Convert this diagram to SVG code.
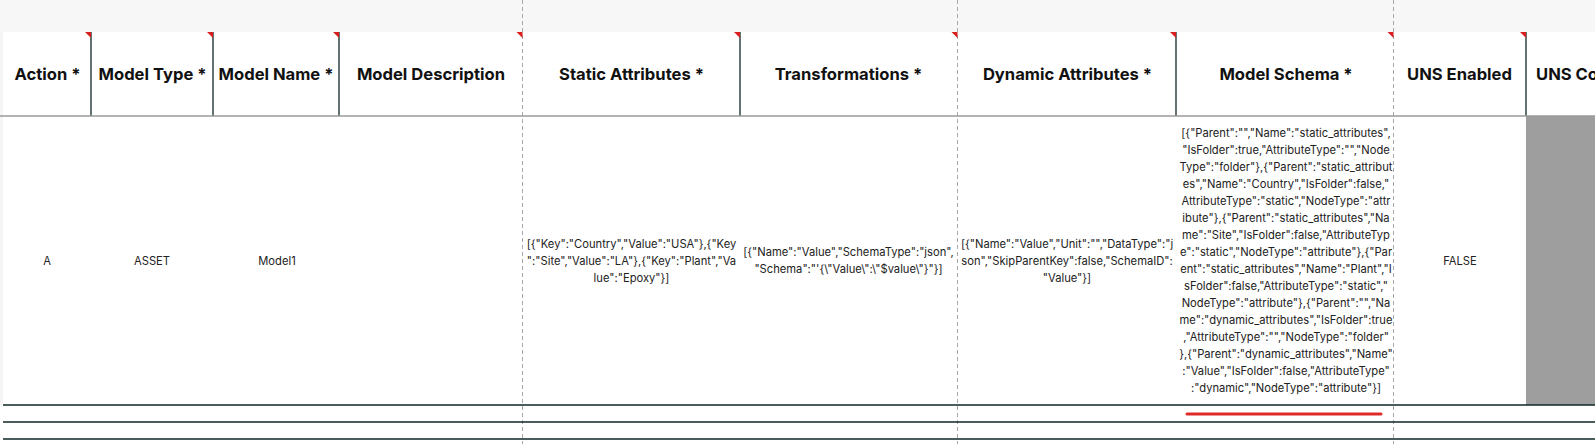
<svg xmlns="http://www.w3.org/2000/svg" width="1595" height="444" viewBox="0 0 1595 444">
<style>
.h{font-family:Inter,"Liberation Sans",sans-serif;font-weight:700;font-size:16.6px;fill:#111;text-anchor:middle}
.b{font-family:Inter,"Liberation Sans",sans-serif;font-size:11.2px;fill:#222;text-anchor:middle}
.sep{stroke:#0e2626;stroke-width:1.3}
.dash{stroke:#a8a8a8;stroke-width:1;stroke-dasharray:4 3}
.row{stroke:#0e2626;stroke-width:1.3}
.tri{fill:#d81e1e}
</style>
<rect x="0" y="0" width="1595" height="444" fill="#ffffff"/>
<rect x="0" y="0" width="1595" height="32" fill="#f7f7f7"/>
<rect x="0" y="32" width="3" height="373" fill="#f5f5f5"/>
<rect x="1526" y="116" width="69" height="289" fill="#9e9e9e"/>
<g id="connectors">
<line class="dash" x1="522.5" y1="0" x2="522.5" y2="444"/>
<line class="dash" x1="957.5" y1="0" x2="957.5" y2="444"/>
<line class="dash" x1="1393.5" y1="0" x2="1393.5" y2="444"/>
<line class="sep" x1="91" y1="32" x2="91" y2="116"/>
<line class="sep" x1="213" y1="32" x2="213" y2="116"/>
<line class="sep" x1="339" y1="32" x2="339" y2="116"/>
<line class="sep" x1="740" y1="32" x2="740" y2="116"/>
<line class="sep" x1="1176" y1="32" x2="1176" y2="116"/>
<line class="sep" x1="1526" y1="32" x2="1526" y2="116"/>
<line x1="0" y1="116" x2="1595" y2="116" stroke="#9a9a9a" stroke-width="1.3"/>
<line class="row" x1="3" y1="405" x2="1595" y2="405"/>
<line class="row" x1="3" y1="422" x2="1595" y2="422"/>
<line class="row" x1="3" y1="439" x2="1595" y2="439"/>
<line x1="1187" y1="414" x2="1381" y2="414" stroke="#e02a2a" stroke-width="3" stroke-linecap="round"/>
</g>
<g id="markers">
<polygon class="tri" points="85,32 91,32 91,38"/>
<polygon class="tri" points="207,32 213,32 213,38"/>
<polygon class="tri" points="333,32 339,32 339,38"/>
<polygon class="tri" points="516.5,32 522.5,32 522.5,38"/>
<polygon class="tri" points="734,32 740,32 740,38"/>
<polygon class="tri" points="951.5,32 957.5,32 957.5,38"/>
<polygon class="tri" points="1170,32 1176,32 1176,38"/>
<polygon class="tri" points="1387.5,32 1393.5,32 1393.5,38"/>
<polygon class="tri" points="1520,32 1526,32 1526,38"/>
</g>
<g id="col-action">
<text class="h" x="47.5" y="80">Action *</text>
<text class="b" x="47" y="265">A</text>
</g>
<g id="col-model-type">
<text class="h" x="152.5" y="80">Model Type *</text>
<text class="b" x="152" y="265">ASSET</text>
</g>
<g id="col-model-name">
<text class="h" x="276" y="80">Model Name *</text>
<text class="b" x="277" y="265">Model1</text>
</g>
<g id="col-model-description">
<text class="h" x="431" y="80">Model Description</text>
</g>
<g id="col-static-attributes">
<text class="h" x="631.5" y="80">Static Attributes *</text>
<text class="b" x="631.5" y="247.5">[{"Key":"Country","Value":"USA"},{"Key</text>
<text class="b" x="631.5" y="264.5">":"Site","Value":"LA"},{"Key":"Plant","Va</text>
<text class="b" x="631.5" y="281.5">lue":"Epoxy"}]</text>
</g>
<g id="col-transformations">
<text class="h" x="848.5" y="80">Transformations *</text>
<text class="b" x="848.5" y="256">[{"Name":"Value","SchemaType":"json",</text>
<text class="b" x="848.5" y="273">"Schema":"'{\"Value\":\"$value\"}"}]</text>
</g>
<g id="col-dynamic-attributes">
<text class="h" x="1067.5" y="80">Dynamic Attributes *</text>
<text class="b" x="1067" y="247.5">[{"Name":"Value","Unit":"","DataType":"j</text>
<text class="b" x="1067" y="264.5">son","SkipParentKey":false,"SchemaID":</text>
<text class="b" x="1067" y="281.5">"Value"}]</text>
</g>
<g id="col-model-schema">
<text class="h" x="1286" y="80">Model Schema *</text>
<text class="b" x="1286" y="137.3">[{"Parent":"","Name":"static_attributes",</text>
<text class="b" x="1286" y="154.3">"IsFolder":true,"AttributeType":"","Node</text>
<text class="b" x="1286" y="171.3">Type":"folder"},{"Parent":"static_attribut</text>
<text class="b" x="1286" y="188.3">es","Name":"Country","IsFolder":false,"</text>
<text class="b" x="1286" y="205.3">AttributeType":"static","NodeType":"attr</text>
<text class="b" x="1286" y="222.3">ibute"},{"Parent":"static_attributes","Na</text>
<text class="b" x="1286" y="239.3">me":"Site","IsFolder":false,"AttributeTyp</text>
<text class="b" x="1286" y="256.3">e":"static","NodeType":"attribute"},{"Par</text>
<text class="b" x="1286" y="273.3">ent":"static_attributes","Name":"Plant","I</text>
<text class="b" x="1286" y="290.3">sFolder":false,"AttributeType":"static","</text>
<text class="b" x="1286" y="307.3">NodeType":"attribute"},{"Parent":"","Na</text>
<text class="b" x="1286" y="324.3">me":"dynamic_attributes","IsFolder":true</text>
<text class="b" x="1286" y="341.3">,"AttributeType":"","NodeType":"folder"</text>
<text class="b" x="1286" y="358.3">},{"Parent":"dynamic_attributes","Name"</text>
<text class="b" x="1286" y="375.3">:"Value","IsFolder":false,"AttributeType"</text>
<text class="b" x="1286" y="392.3">:"dynamic","NodeType":"attribute"}]</text>
</g>
<g id="col-uns-enabled">
<text class="h" x="1459.5" y="80">UNS Enabled</text>
<text class="b" x="1460" y="265">FALSE</text>
</g>
<g id="col-uns-co">
<text class="h" x="1536" y="80" style="text-anchor:start">UNS Co</text>
</g>
</svg>
